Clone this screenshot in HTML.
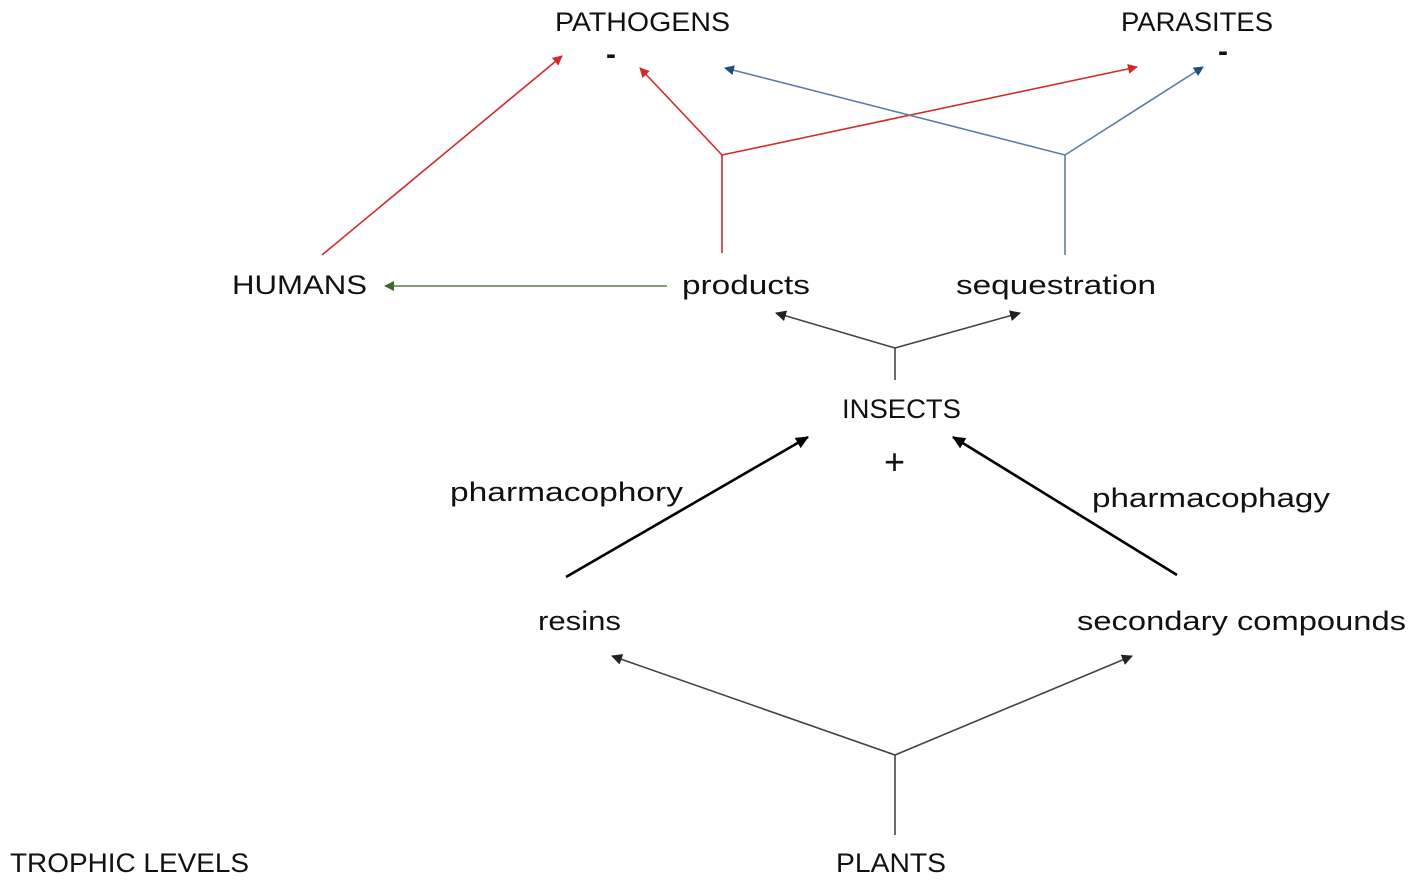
<!DOCTYPE html>
<html><head><meta charset="utf-8"><style>
html,body{margin:0;padding:0;background:#fff;}
svg{display:block;}
text{font-family:"Liberation Sans",sans-serif;font-size:27px;fill:#111;}
</style></head><body>
<svg width="1417" height="883" viewBox="0 0 1417 883" xmlns="http://www.w3.org/2000/svg">
<defs>
<marker id="ar" markerWidth="10" markerHeight="10" refX="9" refY="5" orient="auto" markerUnits="userSpaceOnUse"><path d="M0,0 L10,5 L0,10 z" fill="#d42a2a"/></marker>
<marker id="ab" markerWidth="10" markerHeight="10" refX="9" refY="5" orient="auto" markerUnits="userSpaceOnUse"><path d="M0,0 L10,5 L0,10 z" fill="#1f4e79"/></marker>
<marker id="ag" markerWidth="10" markerHeight="10" refX="9" refY="5" orient="auto" markerUnits="userSpaceOnUse"><path d="M0,0 L10,5 L0,10 z" fill="#3a6b2a"/></marker>
<marker id="ak" markerWidth="11" markerHeight="11" refX="10" refY="5.5" orient="auto" markerUnits="userSpaceOnUse"><path d="M0,0 L11,5.5 L0,11 z" fill="#222"/></marker>
<marker id="akb" markerWidth="13" markerHeight="12" refX="12" refY="6" orient="auto" markerUnits="userSpaceOnUse"><path d="M0,0 L13,6 L0,12 z" fill="#000"/></marker>
</defs>
<!-- red -->
<g stroke="#d42a2a" stroke-width="1.6" fill="none">
<line x1="322" y1="255" x2="562" y2="56" marker-end="url(#ar)"/>
<polyline points="722,253 722,155"/>
<line x1="722" y1="155" x2="640" y2="68" marker-end="url(#ar)"/>
<line x1="722" y1="155" x2="1137" y2="67" marker-end="url(#ar)"/>
</g>
<!-- blue -->
<g stroke="#5a7fa6" stroke-width="1.6" fill="none">
<polyline points="1065,255 1065,155"/>
<line x1="1065" y1="155" x2="725" y2="68" marker-end="url(#ab)"/>
<line x1="1065" y1="155" x2="1203" y2="67" marker-end="url(#ab)"/>
</g>
<!-- green -->
<line x1="667" y1="286" x2="385" y2="286" stroke="#5a7d4a" stroke-width="1.6" marker-end="url(#ag)"/>
<!-- gray insects -->
<g stroke="#444" stroke-width="1.6" fill="none">
<polyline points="895,380 895,348"/>
<line x1="895" y1="348" x2="776" y2="313" marker-end="url(#ak)"/>
<line x1="895" y1="348" x2="1020" y2="313" marker-end="url(#ak)"/>
<polyline points="895,835 895,755"/>
<line x1="895" y1="755" x2="612" y2="656" marker-end="url(#ak)"/>
<line x1="895" y1="755" x2="1132" y2="656" marker-end="url(#ak)"/>
</g>
<!-- black thick -->
<g stroke="#000" stroke-width="2.6" fill="none">
<line x1="566" y1="577" x2="808" y2="437" marker-end="url(#akb)"/>
<line x1="1177" y1="575" x2="953" y2="437" marker-end="url(#akb)"/>
</g>
<!-- labels -->
<text x="555" y="31" textLength="175" lengthAdjust="spacingAndGlyphs">PATHOGENS</text>
<text x="606" y="64" style="font-weight:bold;font-size:30px">-</text>
<text x="1121" y="31" textLength="152" lengthAdjust="spacingAndGlyphs">PARASITES</text>
<text x="1218" y="61" style="font-weight:bold;font-size:30px">-</text>
<text x="232" y="294" textLength="135" lengthAdjust="spacingAndGlyphs">HUMANS</text>
<text x="682" y="294" textLength="128" lengthAdjust="spacingAndGlyphs">products</text>
<text x="956" y="294" textLength="200" lengthAdjust="spacingAndGlyphs">sequestration</text>
<text x="842" y="418" textLength="119" lengthAdjust="spacingAndGlyphs">INSECTS</text>
<text x="884" y="474" style="font-size:36px">+</text>
<text x="450" y="501" textLength="233" lengthAdjust="spacingAndGlyphs">pharmacophory</text>
<text x="1092" y="507" textLength="238" lengthAdjust="spacingAndGlyphs">pharmacophagy</text>
<text x="538" y="630" textLength="83" lengthAdjust="spacingAndGlyphs">resins</text>
<text x="1077" y="630" textLength="329" lengthAdjust="spacingAndGlyphs">secondary compounds</text>
<text x="10" y="872" textLength="239" lengthAdjust="spacingAndGlyphs">TROPHIC LEVELS</text>
<text x="836" y="872" textLength="110" lengthAdjust="spacingAndGlyphs">PLANTS</text>
</svg>
</body></html>
